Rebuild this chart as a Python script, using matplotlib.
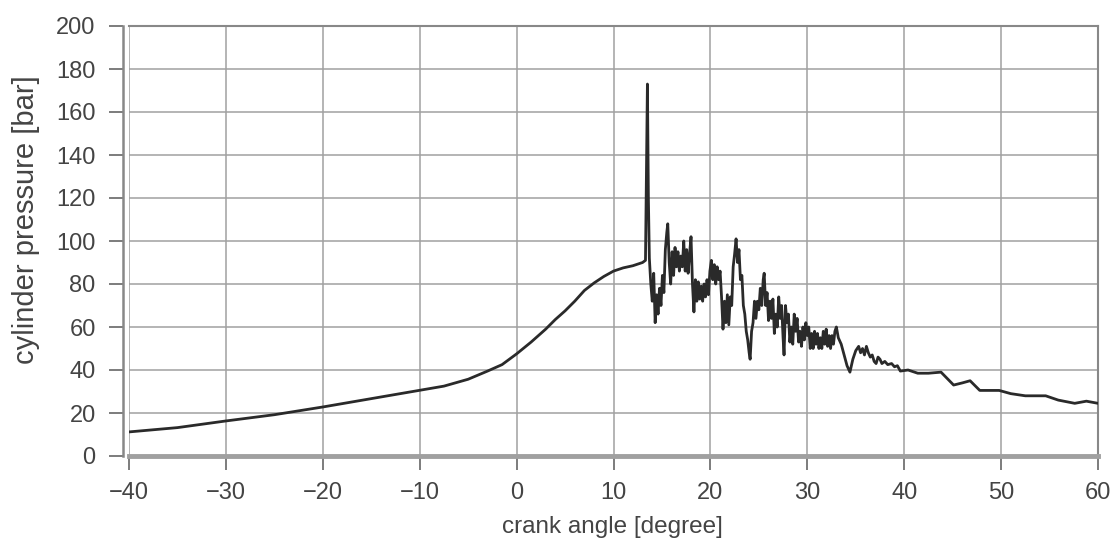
import matplotlib
matplotlib.use("Agg")
import matplotlib.pyplot as plt

# crank angle [degree]
crank_angle = [-40, -35, -30, -25, -20, -15, -10, -7.5, -5, -3, -1.5, 0, 1.5, 3, 4, 5, 6, 7, 8, 9,
               10, 11, 12, 13.0, 13.3, 13.4, 13.5, 13.6, 13.7, 13.85, 14.0, 14.15, 14.3, 14.45,
               14.6, 14.75, 14.9, 15.05, 15.2, 15.35, 15.5, 15.6, 15.75, 15.9, 16.05, 16.2, 16.35,
               16.5, 16.65, 16.8, 16.95, 17.1, 17.25, 17.4, 17.55, 17.7, 17.85, 18.0, 18.15, 18.3,
               18.45, 18.6, 18.75, 18.9, 19.05, 19.2, 19.35, 19.5, 19.65, 19.8, 19.95, 20.1, 20.25,
               20.4, 20.55, 20.7, 20.85, 21.0, 21.15, 21.3, 21.45, 21.6, 21.75, 21.9, 22.05, 22.2,
               22.35, 22.5, 22.65, 22.8, 22.95, 23.1, 23.25, 23.4, 23.55, 23.7, 23.85, 24.0, 24.1,
               24.25, 24.4, 24.55, 24.7, 24.85, 25.0, 25.15, 25.3, 25.45, 25.55, 25.7, 25.85, 26.0,
               26.15, 26.3, 26.45, 26.6, 26.75, 26.9, 27.05, 27.2, 27.35, 27.5, 27.6, 27.75, 27.9,
               28.05, 28.2, 28.35, 28.5, 28.65, 28.8, 28.95, 29.1, 29.25, 29.4, 29.55, 29.7, 29.85,
               30.0, 30.15, 30.3, 30.45, 30.6, 30.75, 30.9, 31.05, 31.2, 31.35, 31.5, 31.65, 31.8,
               31.95, 32.1, 32.25, 32.4, 32.55, 32.7, 32.85, 33.0, 33.2, 33.5, 33.8, 34.1, 34.4,
               34.7, 35.0, 35.3, 35.5, 35.7, 35.9, 36.1, 36.3, 36.5, 36.7, 36.9, 37.1, 37.3, 37.5,
               37.7, 38.0, 38.3, 38.7, 39.0, 39.3, 39.6, 40.4, 41.4, 42.5, 43.8, 45.1, 46.0, 46.8,
               47.8, 49.8, 51.0, 52.5, 54.6, 55.9, 57.6, 58.8, 60]
# cylinder pressure [bar]
pressure = [11.2, 13.2, 16.3, 19.2, 22.8, 26.7, 30.6, 32.5, 35.7, 39.5, 42.5, 47.5, 53, 59, 63.5,
            67.5, 72, 77, 80.5, 83.5, 86, 87.5, 88.5, 90, 91, 130, 173, 120, 92, 80, 72, 85, 62, 75,
            66, 78, 70, 84, 76, 96, 104, 108, 90, 80, 95, 84, 97,
            88, 95, 86, 93, 88, 100, 86, 96, 85, 94, 102, 80, 67,
            82, 72, 81, 73, 79, 72, 80, 74, 82, 75, 86, 91, 82,
            89, 80, 88, 82, 86, 74, 59, 72, 62, 75, 61, 74, 70,
            88, 94, 101, 90, 96, 82, 84, 70, 66, 58, 54, 48, 45,
            58, 62, 72, 64, 72, 68, 78, 70, 82, 85, 70, 76, 63,
            72, 64, 73, 57, 66, 60, 74, 64, 70, 55, 47, 70, 62,
            66, 53, 60, 52, 66, 58, 64, 53, 58, 51, 60, 54, 62,
            56, 60, 50, 57, 50, 58, 52, 57, 50, 55, 50, 58, 52,
            59, 51, 56, 50, 56, 52, 58, 60, 55, 52, 47, 42, 39,
            45, 49, 51, 48, 50, 47, 51, 48, 46, 47, 44, 43, 46, 45,
            43, 44, 42.5, 43, 41.5, 42, 39.5, 40, 38.5, 38.5, 39, 33, 34, 35,
            30.5, 30.5, 29, 28, 28, 26, 24.5, 25.5, 24.5]

x_ticks = [-40, -30, -20, -10, 0, 10, 20, 30, 40, 50, 60]
y_ticks = [0, 20, 40, 60, 80, 100, 120, 140, 160, 180, 200]

plt.rcParams['font.family'] = ['Liberation Sans', 'DejaVu Sans']

fig = plt.figure(figsize=(11.15, 5.44), dpi=100)
ax = fig.add_axes([129 / 1115, 1 - 456 / 544, (1098 - 129) / 1115, (456 - 26) / 544])

ax.plot(crank_angle, pressure, color='#2a2a2a', linewidth=2.0, zorder=3)

ax.set_xlim(-40, 60)
ax.set_ylim(0, 200)
ax.set_xticks(x_ticks)
ax.set_yticks(y_ticks)
ax.set_xticklabels([("\u2212" + str(-v)) if v < 0 else str(v) for v in x_ticks])
ax.grid(True, color='#a0a0a0', linewidth=1.1)
ax.set_axisbelow(True)

ax.tick_params(axis='both', colors='#666666', labelcolor='#444444', labelsize=17,
               length=10, width=1.2, direction='out')
ax.tick_params(axis='x', pad=9)
ax.tick_params(axis='y', pad=10)

ax.spines['left'].set_position(('outward', 4))
ax.spines['left'].set_color('#888888')
ax.spines['left'].set_linewidth(1.8)
ax.spines['bottom'].set_color('#a0a0a0')
ax.spines['bottom'].set_linewidth(3.5)
ax.spines['top'].set_color('#888888')
ax.spines['top'].set_linewidth(1.5)
ax.spines['right'].set_color('#888888')
ax.spines['right'].set_linewidth(1.5)

fig.text(612 / 1115, 1 - 527 / 544, 'crank angle [degree]', ha='center', va='center',
         fontsize=17.5, color='#444444')
fig.text(26 / 1115, 1 - 220 / 544, 'cylinder pressure [bar]', ha='center', va='center',
         rotation=90, fontsize=21, color='#444444')

fig.savefig('out.png', dpi=100, facecolor='white')
